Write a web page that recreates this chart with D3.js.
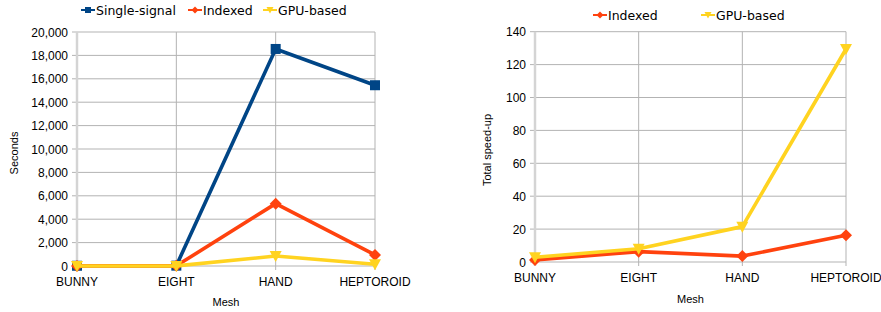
<!DOCTYPE html>
<html>
<head>
<meta charset="utf-8">
<script src="https://cdn.jsdelivr.net/npm/d3@7"></script>
<style>
  body { margin: 0; background: #fff; }
  svg { display: block; }
  text { font-family: "Liberation Sans", Arial, sans-serif; fill: #000; }
  .legend text { font-family: "DejaVu Sans", sans-serif; font-size: 12.5px; }
</style>
</head>
<body>
<svg id="chart" width="881" height="312"></svg>
<script>
var meshes = ["BUNNY", "EIGHT", "HAND", "HEPTOROID"]

// left chart: run time in seconds
var singleSignal = [20, 30, 18550, 15450]
var indexedSec = [10, 15, 5330, 950]
var gpuSec = [5, 10, 850, 150]
var secTicks = [0, 2000, 4000, 6000, 8000, 10000, 12000, 14000, 16000, 18000, 20000]

// right chart: total speed-up
var indexedSpeed = [1.2, 6.3, 3.6, 16.2]
var gpuSpeed = [2.9, 8.1, 21.5, 129.5]
var speedTicks = [0, 20, 40, 60, 80, 100, 120, 140]

var colors = { single: "#004586", indexed: "#ff420e", gpu: "#ffd320" }

var svg = d3.select("#chart")

function marker(g, kind, color, x, y) {
  if (kind == "square") {
    g.append("rect").attr("x", x - 5).attr("y", y - 5).attr("width", 10).attr("height", 10).attr("fill", color)
  } else if (kind == "diamond") {
    g.append("path").attr("d", "M" + x + "," + (y - 6) + "L" + (x + 6) + "," + y + "L" + x + "," + (y + 6) + "L" + (x - 6) + "," + y + "Z").attr("fill", color)
  } else {
    g.append("path").attr("d", "M" + (x - 6) + "," + (y - 5) + "L" + (x + 6) + "," + (y - 5) + "L" + x + "," + (y + 6) + "Z").attr("fill", color)
  }
}

function drawChart(opts) {
  var g = svg.append("g")
  var x = d3.scalePoint().domain(meshes).range(opts.xr)
  var y = d3.scaleLinear().domain([0, opts.max]).range(opts.yr)

  // horizontal grid + ticks
  g.selectAll(".hg").data(opts.ticks).enter().append("line")
    .attr("x1", opts.xr[0] - 5).attr("x2", opts.xr[1])
    .attr("y1", function(d) { return y(d) }).attr("y2", function(d) { return y(d) })
    .attr("stroke", "#b3b3b3").attr("stroke-width", 1)
  // vertical grid
  g.selectAll(".vg").data(meshes).enter().append("line")
    .attr("x1", function(d) { return x(d) }).attr("x2", function(d) { return x(d) })
    .attr("y1", opts.yr[1]).attr("y2", opts.yr[0] + 4)
    .attr("stroke", "#b3b3b3").attr("stroke-width", 1)
  // y axis line
  g.append("line").attr("x1", opts.xr[0]).attr("x2", opts.xr[0])
    .attr("y1", opts.yr[1]).attr("y2", opts.yr[0] + 4)
    .attr("stroke", "#d4d4d4").attr("stroke-width", 2.5)

  g.selectAll(".yl").data(opts.ticks).enter().append("text")
    .attr("x", opts.xr[0] - 9).attr("y", function(d) { return y(d) + 4.5 })
    .attr("text-anchor", "end").attr("font-size", 12)
    .text(function(d) { return d3.format(",")(d) })

  g.selectAll(".xl").data(meshes).enter().append("text")
    .attr("x", function(d) { return x(d) }).attr("y", opts.yr[0] + opts.xlabOff)
    .attr("text-anchor", "middle").attr("font-size", 12)
    .text(function(d) { return d })

  g.append("text").attr("x", (opts.xr[0] + opts.xr[1]) / 2).attr("y", opts.meshY)
    .attr("text-anchor", "middle").attr("font-size", 11).text("Mesh")
  g.append("text").attr("transform", "translate(" + opts.ytX + "," + opts.ytY + ") rotate(-90)")
    .attr("text-anchor", "middle").attr("font-size", 11).text(opts.ytitle)

  var line = d3.line().x(function(d, i) { return x(meshes[i]) }).y(function(d) { return y(d) })
  opts.series.forEach(function(s) {
    g.append("path").attr("d", line(s.values)).attr("fill", "none")
      .attr("stroke", s.color).attr("stroke-width", 3.6).attr("stroke-linejoin", "round")
    s.values.forEach(function(v, i) { marker(g, s.shape, s.color, x(meshes[i]), y(v)) })
  })

  // legend
  var lg = svg.append("g").attr("class", "legend")
  opts.legend.forEach(function(l) {
    lg.append("line").attr("x1", l.x - 7).attr("x2", l.x + 7).attr("y1", opts.legY).attr("y2", opts.legY)
      .attr("stroke", l.color).attr("stroke-width", 2)
    var mg = lg.append("g")
    if (l.shape == "square") mg.append("rect").attr("x", l.x - 3).attr("y", opts.legY - 3).attr("width", 6).attr("height", 6).attr("fill", l.color)
    else if (l.shape == "diamond") mg.append("path").attr("d", "M" + l.x + "," + (opts.legY - 3.5) + "L" + (l.x + 3.5) + "," + opts.legY + "L" + l.x + "," + (opts.legY + 3.5) + "L" + (l.x - 3.5) + "," + opts.legY + "Z").attr("fill", l.color)
    else mg.append("path").attr("d", "M" + (l.x - 3.5) + "," + (opts.legY - 3) + "L" + (l.x + 3.5) + "," + (opts.legY - 3) + "L" + l.x + "," + (opts.legY + 3.5) + "Z").attr("fill", l.color)
    lg.append("text").attr("x", l.x + 8).attr("y", opts.legY + 4.5).text(l.name)
  })
}

drawChart({
  xr: [77, 375], yr: [266, 32], max: 20000, ticks: secTicks,
  xlabOff: 20, meshY: 306, ytX: 18, ytY: 153, ytitle: "Seconds",
  series: [
    { values: singleSignal, color: colors.single, shape: "square" },
    { values: indexedSec, color: colors.indexed, shape: "diamond" },
    { values: gpuSec, color: colors.gpu, shape: "tri" }
  ],
  legY: 10,
  legend: [
    { name: "Single-signal", x: 88, color: colors.single, shape: "square" },
    { name: "Indexed", x: 195, color: colors.indexed, shape: "diamond" },
    { name: "GPU-based", x: 270, color: colors.gpu, shape: "tri" }
  ]
})

drawChart({
  xr: [535, 846], yr: [262, 31.7], max: 140, ticks: speedTicks,
  xlabOff: 20, meshY: 303, ytX: 491, ytY: 150, ytitle: "Total speed-up",
  series: [
    { values: indexedSpeed, color: colors.indexed, shape: "diamond" },
    { values: gpuSpeed, color: colors.gpu, shape: "tri" }
  ],
  legY: 15,
  legend: [
    { name: "Indexed", x: 600, color: colors.indexed, shape: "diamond" },
    { name: "GPU-based", x: 708, color: colors.gpu, shape: "tri" }
  ]
})
</script>
</body>
</html>
